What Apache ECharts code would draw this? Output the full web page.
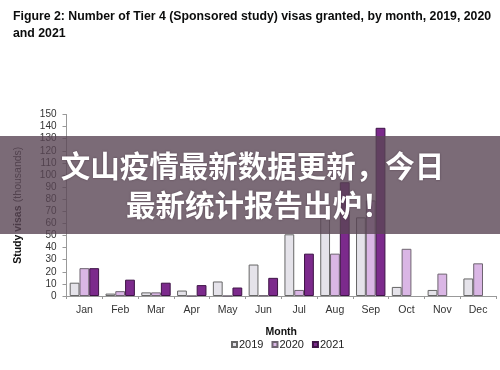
<!DOCTYPE html>
<html>
<head>
<meta charset="utf-8">
<script src="https://cdn.jsdelivr.net/npm/echarts@6/dist/echarts.min.js"></script>
<style>
html,body{margin:0;padding:0;background:#fff;}
#chart{width:500px;height:370px;}
</style>
</head>
<body>
<div id="chart"></div>
<script>
const months = ['Jan','Feb','Mar','Apr','May','Jun','Jul','Aug','Sep','Oct','Nov','Dec'];
const v2019 = [11, 2, 3, 4.5, 12, 26, 51, 65, 65, 7.5, 5, 14.5];
const v2020 = [23, 4, 3, 0, 0, 0.5, 5, 35, 79, 39, 18.5, 27];
const v2021 = [23, 13.5, 11, 9, 7, 15, 35, 94, 139, null, null, null];
const yTicks = [0, 150, 10];
const titleText = 'Figure 2: Number of Tier 4 (Sponsored study) visas granted, by month, 2019, 2020\nand 2021';
const bannerLine1 = '文山疫情最新数据更新，今日';
const bannerLine2 = '最新统计报告出炉！';

const chart = echarts.init(document.getElementById('chart'), null, {renderer: 'canvas'});
const F = '"Liberation Sans", Arial, sans-serif';
function barSeries(name, data, fill, border) {
  return {
    name: name, type: 'bar', data: data, barWidth: 9.8, barGap: '0%',
    itemStyle: {color: fill, borderColor: border, borderWidth: 1},
    emphasis: {disabled: true}
  };
}
chart.setOption({
  animation: false,
  title: {
    text: titleText, left: 8, top: 3,
    textStyle: {fontFamily: F, fontSize: 12.3, fontWeight: 'bold', color: '#0b0c0c', lineHeight: 17}
  },
  grid: {left: 66.5, right: 4, top: 114.5, bottom: 74},
  legend: {
    data: ['2019','2020','2021'], bottom: 15, left: 226,
    itemWidth: 5, itemHeight: 5, itemGap: 8, icon: 'rect',
    textStyle: {fontFamily: F, fontSize: 11, color: '#222', padding: [0,0,0,-3]}
  },
  xAxis: {
    type: 'category', data: months,
    name: 'Month', nameLocation: 'middle', nameGap: 31,
    nameTextStyle: {fontFamily: F, fontSize: 10.5, fontWeight: 'bold', color: '#111'},
    axisLine: {lineStyle: {color: '#999'}},
    axisTick: {show: true, length: 3, lineStyle: {color: '#999'}},
    axisLabel: {fontFamily: F, fontSize: 10.5, color: '#333', margin: 9}
  },
  yAxis: {
    type: 'value', min: yTicks[0], max: yTicks[1], interval: yTicks[2],
    name: '{b|Study visas} {n|(thousands)}', nameLocation: 'middle', nameGap: 42, nameRotate: 90,
    nameTextStyle: {rich: {
      b: {fontFamily: F, fontSize: 10.5, fontWeight: 'bold', color: '#111'},
      n: {fontFamily: F, fontSize: 10.5, color: '#333'}
    }},
    axisLine: {show: true, lineStyle: {color: '#999'}},
    axisTick: {show: true, length: 4, lineStyle: {color: '#999'}},
    splitLine: {show: false},
    axisLabel: {fontFamily: F, fontSize: 10, color: '#333', margin: 10}
  },
  series: [
    barSeries('2019', v2019, '#e5e3ea', '#666'),
    barSeries('2020', v2020, '#dab6e5', '#6e6470'),
    barSeries('2021', v2021, '#7c2a8c', '#3e1446')
  ],
  graphic: [
    {type: 'rect', z: 100, shape: {x: 0, y: 136, width: 500, height: 98},
     style: {fill: 'rgba(90,70,85,0.8)'}},
    {type: 'text', z: 101, x: 252.5, y: 166,
     style: {text: bannerLine1, fill: '#fff', fontFamily: '"Noto Sans CJK SC"', fontWeight: 'bold', fontSize: 29.5,
       align: 'center', verticalAlign: 'middle', textShadowColor: 'rgba(40,20,35,0.5)', textShadowBlur: 2}},
    {type: 'text', z: 101, x: 126, y: 205,
     style: {text: bannerLine2, fill: '#fff', fontFamily: '"Noto Sans CJK SC"', fontWeight: 'bold', fontSize: 29.5,
       align: 'left', verticalAlign: 'middle', textShadowColor: 'rgba(40,20,35,0.5)', textShadowBlur: 2}}
  ]
});
</script>
</body>
</html>
